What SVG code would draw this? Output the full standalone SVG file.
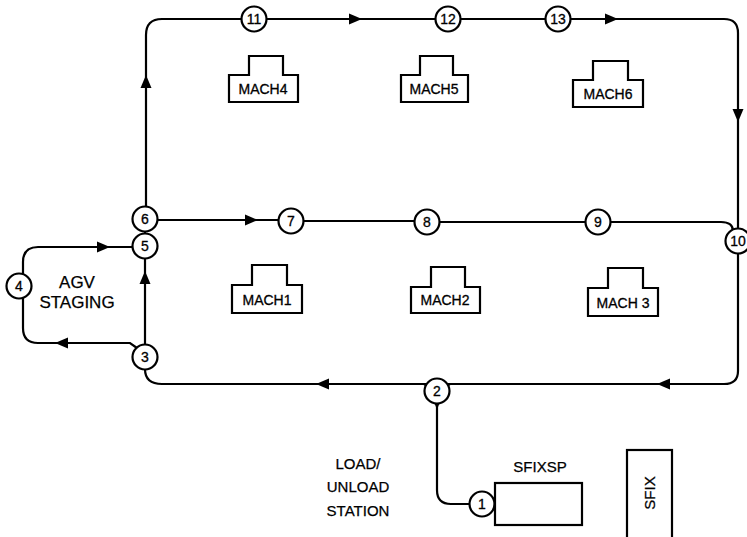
<svg xmlns="http://www.w3.org/2000/svg" xmlns:xlink="http://www.w3.org/1999/xlink" width="747" height="537" viewBox="0 0 747 537">
<style>
.ln{fill:none;stroke:#000;stroke-width:2.2}
.nd circle{fill:#fff;stroke:#000;stroke-width:2.2}
.nd text{font-family:"Liberation Sans",Arial,sans-serif;font-size:14px;text-anchor:middle;fill:#000;stroke:#000;stroke-width:0.3}
.mc path,.bx{fill:#fff;stroke:#000;stroke-width:2.2}
.mc text{font-family:"Liberation Sans",Arial,sans-serif;font-size:14px;text-anchor:middle;fill:#000;stroke:#000;stroke-width:0.3}
.lb{font-family:"Liberation Sans",Arial,sans-serif;fill:#000;text-anchor:middle;stroke:#000;stroke-width:0.25}
</style>
<defs>
<path id="ah" d="M0,0 L-13,-5.5 L-13,5.5 Z" fill="#000"/>
</defs>
<rect width="747" height="537" fill="#fff"/>
<g id="connectors">
<path class="ln" d="M146,207 V35 Q146,19 162,19 H242"/>
<path class="ln" d="M266,19 H436 M460,19 H546 M570,19 H724 Q738,19 738,33 V229"/>
<path class="ln" d="M157,220 H279 M303,221 H415 M439,222 H586 M610,222 H721 Q733,222 733,231"/>
<path class="ln" d="M738,253 V371 Q738,384 724,384 H447 M427,384 H162 Q145,384 145,369"/>
<path class="ln" d="M145,345 V258 M145,234 V231"/>
<path class="ln" d="M23,274 V262 Q23,247 38,247 H133"/>
<path class="ln" d="M23,298 V328 Q23,343 38,343 H130 L137,348"/>
<path class="ln" d="M437,403 V490 Q437,504 451,504 H470"/>
<path d="M419,383 L430,383 L428,390 Q426,385 419,383 Z M455,383 L444,383 L446,390 Q448,385 455,383 Z M431,400 L443,400 Q438,404 437,411 Q436,404 431,400 Z" fill="#000"/>
<use xlink:href="#ah" href="#ah" transform="translate(362,19)"/>
<use xlink:href="#ah" href="#ah" transform="translate(618,19)"/>
<use xlink:href="#ah" href="#ah" transform="translate(738,122) rotate(90)"/>
<use xlink:href="#ah" href="#ah" transform="translate(146,75) rotate(-90)"/>
<use xlink:href="#ah" href="#ah" transform="translate(258,220)"/>
<use xlink:href="#ah" href="#ah" transform="translate(110,247)"/>
<use xlink:href="#ah" href="#ah" transform="translate(55,343) rotate(180)"/>
<use xlink:href="#ah" href="#ah" transform="translate(145,271) rotate(-90)"/>
<use xlink:href="#ah" href="#ah" transform="translate(657,384) rotate(180)"/>
<use xlink:href="#ah" href="#ah" transform="translate(316,384) rotate(180)"/>
</g>
<g id="n1" class="nd"><circle cx="482" cy="504" r="12.5"/><text x="482" y="509">1</text></g>
<g id="n2" class="nd"><circle cx="437" cy="391" r="12.5"/><text x="437" y="396">2</text></g>
<g id="n3" class="nd"><circle cx="145" cy="357" r="12.5"/><text x="145" y="362">3</text></g>
<g id="n4" class="nd"><circle cx="19" cy="286" r="12.5"/><text x="19" y="291">4</text></g>
<g id="n5" class="nd"><circle cx="145" cy="246" r="12.5"/><text x="145" y="251">5</text></g>
<g id="n6" class="nd"><circle cx="145" cy="219" r="12.5"/><text x="145" y="224">6</text></g>
<g id="n7" class="nd"><circle cx="291" cy="221" r="12.5"/><text x="291" y="226">7</text></g>
<g id="n8" class="nd"><circle cx="427" cy="222" r="12.5"/><text x="427" y="227">8</text></g>
<g id="n9" class="nd"><circle cx="598" cy="222" r="12.5"/><text x="598" y="227">9</text></g>
<g id="n10" class="nd"><circle cx="738" cy="241" r="12.5"/><text x="738" y="246">10</text></g>
<g id="n11" class="nd"><circle cx="254" cy="19" r="12.5"/><text x="254" y="24">11</text></g>
<g id="n12" class="nd"><circle cx="448" cy="19" r="12.5"/><text x="448" y="24">12</text></g>
<g id="n13" class="nd"><circle cx="558" cy="19" r="12.5"/><text x="558" y="24">13</text></g>
<g id="mach4" class="mc"><path d="M229,75 H249 V56 H283 V75 H298 V102 H229 Z"/><text x="263" y="94">MACH4</text></g>
<g id="mach5" class="mc"><path d="M401,75 H420 V56 H453 V75 H468 V102 H401 Z"/><text x="434" y="94">MACH5</text></g>
<g id="mach6" class="mc"><path d="M573,80 H593 V61 H628 V80 H643 V107 H573 Z"/><text x="608" y="99">MACH6</text></g>
<g id="mach1" class="mc"><path d="M232,285 H252 V265 H287 V285 H302 V313 H232 Z"/><text x="267" y="305">MACH1</text></g>
<g id="mach2" class="mc"><path d="M411,287 H431 V267 H465 V287 H480 V313 H411 Z"/><text x="445" y="305">MACH2</text></g>
<g id="mach3" class="mc"><path d="M588,288 H608 V268 H643 V288 H658 V316 H588 Z"/><text x="623" y="308">MACH 3</text></g>
<g id="agv-staging"><text class="lb" font-size="17" x="77" y="288">AGV</text><text class="lb" font-size="17" x="77" y="308">STAGING</text></g>
<g id="load-station"><text class="lb" font-size="15" x="358" y="469">LOAD/</text><text class="lb" font-size="15" x="358" y="492">UNLOAD</text><text class="lb" font-size="15" x="358" y="516">STATION</text></g>
<g id="sfixsp"><text class="lb" font-size="15" x="540" y="472">SFIXSP</text><rect class="bx" x="495" y="483" width="87" height="42"/></g>
<g id="sfix"><rect class="bx" x="627" y="450" width="45" height="92"/><text class="lb" font-size="15" transform="translate(655,493) rotate(-90)">SFIX</text></g>
</svg>
